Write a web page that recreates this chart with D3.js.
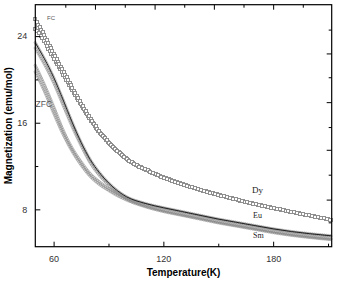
<!DOCTYPE html>
<html>
<head>
<meta charset="utf-8">
<script src="https://cdn.jsdelivr.net/npm/d3@7"></script>
<style>
  body { margin: 0; background: #fff; }
  svg { display: block; }
</style>
</head>
<body>
<div id="chart"></div>
<script>
let width = 339;
let height = 284;

// 温度 (K)
const temps = [50, 52, 55, 60, 65, 70, 75, 80, 85, 90, 95, 100, 110, 120, 130, 140, 150, 160, 170, 180, 190, 200, 212];

// 磁化强度 (emu/mol)
const dyFC  = [25.55, 24.95, 24.0, 22.4, 20.85, 19.3, 17.8, 16.4, 15.2, 14.2, 13.35, 12.65, 11.7, 10.95, 10.35, 9.8, 9.35, 8.9, 8.5, 8.12, 7.77, 7.42, 7.02];
const dyZFC = [24.7, 24.3, 23.5, 22.0, 20.55, 19.1, 17.65, 16.3, 15.15, 14.18, 13.35, 12.65, 11.7, 10.95, 10.35, 9.8, 9.35, 8.9, 8.5, 8.12, 7.77, 7.42, 7.02];
const euFC  = [23.4, 22.8, 21.9, 20.2, 18.2, 16.1, 14.2, 12.6, 11.4, 10.45, 9.7, 9.15, 8.55, 8.15, 7.8, 7.45, 7.1, 6.8, 6.5, 6.2, 5.95, 5.75, 5.55];
const smFC  = [22.9, 22.3, 21.4, 19.7, 17.7, 15.7, 13.9, 12.3, 11.15, 10.25, 9.5, 8.95, 8.3, 7.85, 7.5, 7.15, 6.8, 6.5, 6.2, 5.9, 5.65, 5.45, 5.25];
const euZFC = [21.3, 20.6, 19.5, 17.5, 15.4, 13.7, 12.4, 11.3, 10.55, 9.95, 9.45, 9.05, 8.5, 8.1, 7.75, 7.4, 7.05, 6.75, 6.45, 6.15, 5.9, 5.7, 5.5];
const smZFC = [20.7, 20.0, 18.9, 16.9, 15.0, 13.4, 12.1, 11.05, 10.3, 9.75, 9.25, 8.85, 8.25, 7.8, 7.45, 7.1, 6.75, 6.45, 6.15, 5.85, 5.6, 5.4, 5.2];

// 刻度
const xMajor = [60, 120, 180];
const xMinor = [90, 150, 210];
const yMajor = [8, 16, 24];
const yMinor = [12, 20];
const topMajor = [82.6, 115.2, 147.6, 180];
const topMinor = [66.4, 98.9, 131.4, 163.8, 196.2];
const rightMajor = [22.4, 17.9, 13.5, 8.9];
const rightMinor = [24.6, 20.2, 15.6, 11.2, 6.8];

let margin = { top: 4.7, right: 7.3, bottom: 37.3, left: 35.3 };

let x = d3.scaleLinear()
  .domain([50, 212])
  .range([margin.left, width - margin.right]);

let y = d3.scaleLinear()
  .domain([4.55, 26.9])
  .range([height - margin.bottom, margin.top]);

const svg = d3.select('#chart').append('svg')
  .attr('width', width)
  .attr('height', height);

const series = [
  { v: dyZFC, mark: 'square' },
  { v: dyFC, mark: 'square' },
  { v: smZFC, mark: 'circle' },
  { v: euZFC, mark: 'circle' },
  { v: smFC, mark: 'circle' },
  { v: euFC, mark: 'circle', dark: true }
];

let line = d3.line()
  .x(d => x(d[0]))
  .y(d => y(d[1]))
  .curve(d3.curveMonotoneX);

series.forEach(s => {
  const pts = temps.map((t, i) => [t, s.v[i]]);
  const path = svg.append('path')
    .datum(pts)
    .attr('fill', 'none')
    .attr('stroke', s.dark ? '#111' : '#666')
    .attr('stroke-width', s.dark ? 0.9 : 0.4)
    .attr('d', line);

  // 沿曲线的密集符号
  const node = path.node();
  const L = node.getTotalLength();
  const step = s.mark === 'square' ? 3.0 : 2.0;
  const g = svg.append('g')
    .attr('fill', s.mark === 'square' ? '#fff' : 'none')
    .attr('stroke', '#8f8f8f')
    .attr('stroke-width', s.mark === 'square' ? 1 : 0.6);
  if (s.mark === 'square') g.attr('shape-rendering', 'crispEdges');
  for (let l = 0; l <= L; l += step) {
    const p = node.getPointAtLength(l);
    if (s.mark === 'square') {
      g.append('rect')
        .attr('x', Math.round(p.x) - 1.5).attr('y', Math.round(p.y) - 1.5)
        .attr('width', 3).attr('height', 3);
    } else {
      g.append('circle')
        .attr('cx', p.x).attr('cy', p.y).attr('r', 1.2);
    }
  }
  if (s.dark) path.raise();
});

// 坐标轴
const fontSans = 'Liberation Sans, Arial, sans-serif';

function styleAxis(g) {
  g.select('.domain').remove();
  g.selectAll('line').attr('stroke', '#000').attr('stroke-width', 1);
  g.selectAll('text').attr('font-family', fontSans).attr('font-size', 9).attr('fill', '#333');
}

svg.append('g')
  .attr('transform', `translate(0, ${height - margin.bottom})`)
  .call(d3.axisBottom(x).tickValues(xMajor).tickSize(-5).tickPadding(9).tickFormat(d3.format('d')))
  .call(styleAxis);
svg.append('g')
  .attr('transform', `translate(0, ${height - margin.bottom})`)
  .call(d3.axisBottom(x).tickValues(xMinor).tickSize(-3).tickFormat(''))
  .call(styleAxis);

svg.append('g')
  .attr('transform', `translate(${margin.left}, 0)`)
  .call(d3.axisLeft(y).tickValues(yMajor).tickSize(-5).tickPadding(8).tickFormat(d3.format('d')))
  .call(styleAxis);
svg.append('g')
  .attr('transform', `translate(${margin.left}, 0)`)
  .call(d3.axisLeft(y).tickValues(yMinor).tickSize(-3).tickFormat(''))
  .call(styleAxis);

svg.append('g')
  .attr('transform', `translate(0, ${margin.top})`)
  .call(d3.axisTop(x).tickValues(topMajor).tickSize(-5).tickFormat(''))
  .call(styleAxis);
svg.append('g')
  .attr('transform', `translate(0, ${margin.top})`)
  .call(d3.axisTop(x).tickValues(topMinor).tickSize(-3).tickFormat(''))
  .call(styleAxis);

svg.append('g')
  .attr('transform', `translate(${width - margin.right}, 0)`)
  .call(d3.axisRight(y).tickValues(rightMajor).tickSize(-5).tickFormat(''))
  .call(styleAxis);
svg.append('g')
  .attr('transform', `translate(${width - margin.right}, 0)`)
  .call(d3.axisRight(y).tickValues(rightMinor).tickSize(-3).tickFormat(''))
  .call(styleAxis);

svg.append('rect')
  .attr('x', margin.left)
  .attr('y', margin.top)
  .attr('width', width - margin.left - margin.right)
  .attr('height', height - margin.top - margin.bottom)
  .attr('fill', 'none')
  .attr('stroke', '#000')
  .attr('stroke-width', 1.2);

// 轴标题
svg.append('text')
  .attr('transform', `translate(12, ${(margin.top + height - margin.bottom) / 2}) rotate(-90)`)
  .attr('text-anchor', 'middle')
  .attr('font-family', fontSans)
  .attr('font-weight', 'bold')
  .attr('font-size', 10)
  .text('Magnetization (emu/mol)');

svg.append('text')
  .attr('x', (margin.left + width - margin.right) / 2)
  .attr('y', 276)
  .attr('text-anchor', 'middle')
  .attr('font-family', fontSans)
  .attr('font-weight', 'bold')
  .attr('font-size', 10)
  .text('Temperature(K)');

// 曲线标注
const fontSerif = 'Liberation Serif, Times New Roman, serif';
svg.append('text').attr('x', 252).attr('y', 193)
  .attr('font-family', fontSerif).attr('font-size', 9).attr('fill', '#222').text('Dy');
svg.append('text').attr('x', 253).attr('y', 218)
  .attr('font-family', fontSerif).attr('font-size', 8).attr('fill', '#222').text('Eu');
svg.append('text').attr('x', 253).attr('y', 238)
  .attr('font-family', fontSerif).attr('font-size', 8).attr('fill', '#222').text('Sm');
svg.append('text').attr('x', 47).attr('y', 20)
  .attr('font-family', fontSans).attr('font-size', 6).attr('fill', '#555').text('FC');
svg.append('text').attr('x', 35.5).attr('y', 107)
  .attr('font-family', fontSans).attr('font-size', 8.5).attr('fill', '#555').text('ZFC');
</script>
</body>
</html>
